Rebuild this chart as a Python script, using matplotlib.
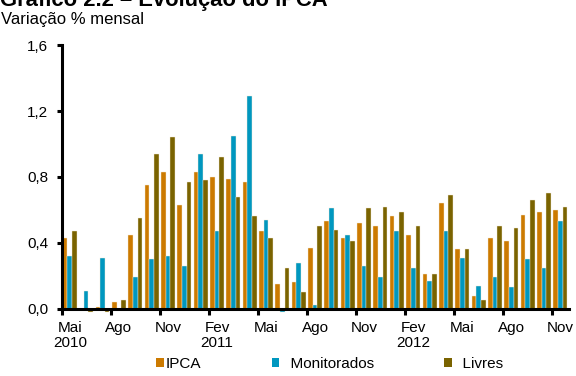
import numpy as np
import matplotlib.pyplot as plt
from matplotlib.patches import Patch

plt.rcParams['font.family'] = ['Liberation Sans', 'DejaVu Sans']

# Monthly change (%) from May 2010 to Nov 2012
ipca = [0.43, 0.00, 0.01, 0.04, 0.45, 0.75, 0.83, 0.63,
        0.83, 0.80, 0.79, 0.77, 0.47, 0.15, 0.16, 0.37, 0.53, 0.43, 0.52, 0.50,
        0.56, 0.45, 0.21, 0.64, 0.36, 0.08, 0.43, 0.41, 0.57, 0.59, 0.60]
monitorados = [0.32, 0.11, 0.31, 0.00, 0.19, 0.30, 0.32, 0.26,
               0.94, 0.47, 1.05, 1.29, 0.54, -0.02, 0.28, 0.02, 0.61, 0.45, 0.26, 0.19,
               0.47, 0.25, 0.17, 0.47, 0.31, 0.14, 0.19, 0.13, 0.30, 0.25, 0.53]
livres = [0.47, -0.02, -0.02, 0.05, 0.55, 0.94, 1.04, 0.77,
          0.78, 0.92, 0.68, 0.56, 0.43, 0.25, 0.10, 0.50, 0.48, 0.41, 0.61, 0.62,
          0.59, 0.50, 0.21, 0.69, 0.36, 0.05, 0.50, 0.49, 0.66, 0.70, 0.62]
month_labels = ['Mai\n2010', 'Ago', 'Nov', 'Fev\n2011', 'Mai', 'Ago', 'Nov',
                'Fev\n2012', 'Mai', 'Ago', 'Nov']

series = [('IPCA', ipca, '#CC7A00'),
          ('  Monitorados', monitorados, '#0097BF'),
          ('  Livres', livres, '#7A6300')]

fig = plt.figure(figsize=(5.76, 3.76), dpi=100)
ax = fig.add_axes([0.107, 0.179, 0.880, 0.701])

x = np.arange(len(ipca))
w = 0.285
for k, (name, vals, col) in enumerate(series):
    ax.bar(x + (k - 1) * w, vals, width=w, color=col, edgecolor='#f3ead8',
           linewidth=0.3, clip_on=False, zorder=2)

ax.set_xlim(-0.5, len(ipca) - 0.5)
ax.set_ylim(0, 1.6)
ax.set_yticks(np.arange(0, 1.61, 0.4))
ax.set_yticklabels([f'{v:.1f}'.replace('.', ',') for v in np.arange(0, 1.61, 0.4)])

# tick marks on month boundaries, labels centred on the months
ax.set_xticks(np.arange(-0.5, len(ipca), 3))
ax.set_xticklabels([])
ax.set_xticks(np.arange(0, len(ipca), 3), minor=True)
ax.set_xticklabels(month_labels, minor=True, linespacing=1.05)
ax.tick_params(axis='x', which='minor', length=0, pad=9, labelsize=11)
ax.tick_params(axis='x', which='major', length=4, width=2.2, direction='out')
ax.tick_params(axis='y', length=3.5, width=2.2, pad=6, labelsize=11)

for side in ['top', 'right']:
    ax.spines[side].set_visible(False)
for side in ['left', 'bottom']:
    ax.spines[side].set_linewidth(2.2)
    ax.spines[side].set_zorder(3)

fig.text(0.0, 0.985, 'Gráfico 2.2 – Evolução do IPCA', fontsize=15.8,
         fontweight='bold', va='baseline', ha='left')
fig.text(0.002, 0.936, 'Variação % mensal', fontsize=12, va='baseline', ha='left')

handles = [Patch(facecolor=col, edgecolor='none') for _, _, col in series]
fig.legend(handles, [s[0] for s in series], loc='center left',
           bbox_to_anchor=(156 / 576, 1 - 364 / 376), ncol=3, frameon=False,
           fontsize=11, handlelength=0.5, handleheight=0.5, handletextpad=0.15,
           columnspacing=4.6, borderpad=0, borderaxespad=0)

fig.savefig('out.png', dpi=100)
